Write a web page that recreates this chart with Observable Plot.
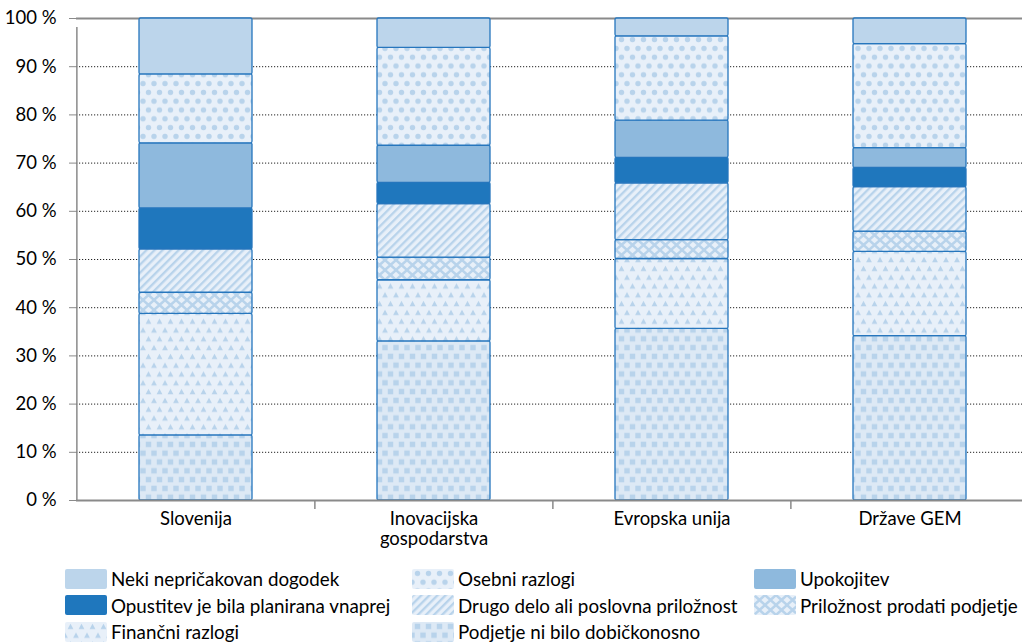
<!DOCTYPE html>
<html>
<head>
<meta charset="utf-8">
<script src="https://cdn.jsdelivr.net/npm/d3@7"></script>
<script src="https://cdn.jsdelivr.net/npm/@observablehq/plot@0.6"></script>
<style>
  body { margin: 0; background: #fff; font-family: Lato, "Open Sans", sans-serif; }
  #legend { position: relative; height: 88px; font-size: 18.8px; color: #000; }
  .item { position: absolute; display: flex; align-items: center; white-space: nowrap; }
  .item svg { margin-right: 4px; }
</style>
</head>
<body>
<div id="chart"></div>
<div id="legend"></div>
<script>
// ---- data ----
const categories = ["Slovenija", "Inovacijska\ngospodarstva", "Evropska unija", "Države GEM"];
const seriesNames = [
  "Podjetje ni bilo dobičkonosno",
  "Finančni razlogi",
  "Priložnost prodati podjetje",
  "Drugo delo ali poslovna priložnost",
  "Opustitev je bila planirana vnaprej",
  "Upokojitev",
  "Osebni razlogi",
  "Neki nepričakovan dogodek"
];
const podjetje     = [13.5, 33.0, 35.6, 34.1];
const financni     = [25.2, 12.7, 14.5, 17.5];
const prodati      = [4.4, 4.7, 3.9, 4.2];
const drugoDelo    = [9.0, 11.1, 11.8, 9.2];
const opustitev    = [8.5, 4.4, 5.3, 4.0];
const upokojitev   = [13.5, 7.7, 7.7, 4.1];
const osebni       = [14.3, 20.3, 17.5, 21.6];
const nepricakovan = [11.6, 6.1, 3.7, 5.3];
const seriesValues = [podjetje, financni, prodati, drugoDelo, opustitev, upokojitev, osebni, nepricakovan];
const yTicks = [0, 10, 20, 30, 40, 50, 60, 70, 80, 90, 100];
const gridTicks = [10, 20, 30, 40, 50, 60, 70, 80, 90];

// ---- styles ----
const seriesFills = [
  "url(#pSquares)", "url(#pTriangles)", "url(#pCross)", "url(#pStripes)",
  "#1f77bd", "#8eb9dd", "url(#pDots)", "#bcd5eb"
];
const legendOrder = [7, 6, 5, 4, 3, 2, 1, 0];

const rows = categories.flatMap((c, i) =>
  seriesNames.map((s, j) => ({cat: c, series: s, value: seriesValues[j][i]})));

const W = 1022, ML = 76, MR = -7;
const step = (W - MR - ML) / categories.length;

const svg = Plot.plot({
  width: W,
  height: 555,
  marginTop: 18,
  marginLeft: ML,
  marginRight: MR,
  marginBottom: 55,
  style: {fontFamily: "Lato, 'Open Sans', sans-serif", fontSize: "18.5px", color: "#000", background: "#fff", overflow: "visible"},
  x: {domain: categories, paddingInner: 0.525, paddingOuter: 0.2625, align: 0.5, axis: null},
  y: {domain: [0, 100], axis: null},
  color: {domain: seriesNames, range: seriesFills},
  marks: [
    Plot.ruleY(gridTicks, {stroke: "#222", strokeWidth: 1, strokeDasharray: "1.2,1.8"}),
    Plot.ruleY([100], {stroke: "#8a8a8a", strokeWidth: 2}),
    Plot.barY(rows, {x: "cat", y: "value", fill: "series", z: "series", stroke: "#2676bd", strokeWidth: 1.3, rx: 1.5}),
    Plot.ruleY([0], {stroke: "#8a8a8a", strokeWidth: 2}),
    Plot.ruleX([categories[0]], {dx: -step / 2, y1: 0, y2: 100, insetBottom: -9, stroke: "#8a8a8a", strokeWidth: 1.5}),
    Plot.ruleX(categories.slice(1), {dx: -step / 2, y1: 0, y2: 0, insetBottom: -9, stroke: "#8a8a8a", strokeWidth: 1.5}),
    Plot.axisY(yTicks, {label: null, tickSize: 7, tickPadding: 13, tickFormat: d => d + " %", stroke: "#8a8a8a", fill: "#000", fontSize: 18.5}),
    Plot.axisX({label: null, tickSize: 0, tickPadding: 10, fill: "#000", fontSize: 18.5, lineHeight: 1.1})
  ]
});

// pattern definitions
const defs = d3.select(svg).insert("defs", ":first-child");
const bg = "#e8f0f9", motif = "#b8d3eb";
{
  const p = defs.append("pattern").attr("id", "pDots").attr("patternUnits", "userSpaceOnUse").attr("width", 11).attr("height", 17.6);
  p.append("rect").attr("width", 11).attr("height", 17.6).attr("fill", bg);
  [[5.5, 4.4], [0, 13.2], [11, 13.2]].forEach(([cx, cy]) => p.append("circle").attr("cx", cx).attr("cy", cy).attr("r", 2.7).attr("fill", motif));
}
{
  const p = defs.append("pattern").attr("id", "pStripes").attr("patternUnits", "userSpaceOnUse").attr("width", 5.7).attr("height", 5.7).attr("patternTransform", "rotate(45)");
  p.append("rect").attr("width", 5.7).attr("height", 5.7).attr("fill", bg);
  p.append("rect").attr("width", 2.3).attr("height", 5.7).attr("fill", motif);
}
{
  const p = defs.append("pattern").attr("id", "pCross").attr("patternUnits", "userSpaceOnUse").attr("width", 11).attr("height", 10);
  p.append("rect").attr("width", 11).attr("height", 10).attr("fill", bg);
  p.append("path").attr("d", "M0,0L11,10M11,0L0,10").attr("stroke", motif).attr("stroke-width", 2.5);
}
{
  const p = defs.append("pattern").attr("id", "pTriangles").attr("patternUnits", "userSpaceOnUse").attr("width", 11).attr("height", 17.6);
  p.append("rect").attr("width", 11).attr("height", 17.6).attr("fill", bg);
  const tri = (x, y) => `M${x - 2.9},${y + 2.7}L${x},${y - 2.7}L${x + 2.9},${y + 2.7}Z`;
  p.append("path").attr("d", tri(5.5, 4.4) + tri(0, 13.2) + tri(11, 13.2)).attr("fill", motif);
}
{
  const p = defs.append("pattern").attr("id", "pSquares").attr("patternUnits", "userSpaceOnUse").attr("width", 11).attr("height", 17.6);
  p.append("rect").attr("width", 11).attr("height", 17.6).attr("fill", "#dde9f5");
  [[5.5, 4.4], [0, 13.2], [11, 13.2]].forEach(([cx, cy]) => p.append("rect").attr("x", cx - 2.7).attr("y", cy - 2.7).attr("width", 5.4).attr("height", 5.4).attr("fill", motif));
}
document.getElementById("chart").appendChild(svg);

// legend
const legend = d3.select("#legend");
const colX = [65, 412, 754];
legendOrder.forEach((j, k) => {
  const col = k % 3, row = Math.floor(k / 3);
  const item = legend.append("div").attr("class", "item")
    .style("left", colX[col] + "px").style("top", (12 + row * 26.5) + "px");
  const s = item.append("svg").attr("width", 42).attr("height", 20);
  s.append("rect").attr("width", 42).attr("height", 20).attr("rx", 2).attr("fill", seriesFills[j]);
  item.append("span").text(seriesNames[j]);
});
</script>
</body>
</html>
